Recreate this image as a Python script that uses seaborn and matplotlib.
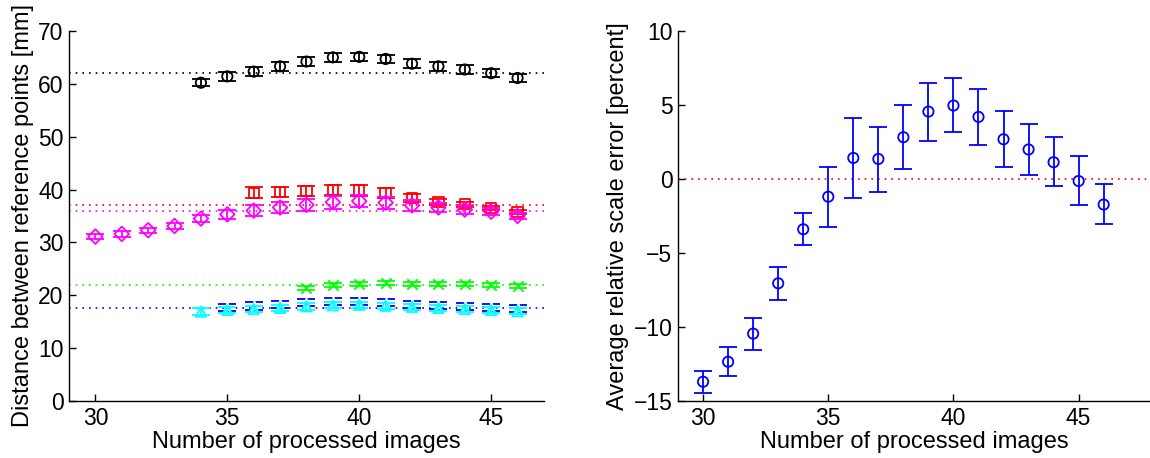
import numpy as np
import pandas as pd
import matplotlib
matplotlib.use("Agg")
import matplotlib.pyplot as plt
import seaborn as sns

# ---- Left panel: distances between reference points (mm) ----
black_x = [34, 35, 36, 37, 38, 39, 40, 41, 42, 43, 44, 45, 46]
black_y = [60.2, 61.4, 62.3, 63.3, 64.2, 65.0, 65.1, 64.7, 63.8, 63.3, 62.7, 62.0, 61.1]
black_err = [0.7, 0.8, 0.8, 0.8, 0.8, 0.8, 0.8, 0.8, 0.8, 0.8, 0.8, 0.8, 0.7]
black_ref = 62.0

red_x = [36, 37, 38, 39, 40, 41, 42, 43, 44, 45, 46]
red_y = [39.4, 39.5, 39.7, 39.9, 39.8, 39.3, 38.4, 37.7, 37.2, 36.5, 35.7]
red_err = [1.0, 1.0, 1.0, 1.0, 1.0, 0.9, 0.7, 0.6, 0.5, 0.4, 0.4]
red_ref = 37.0

mag_x = [30, 31, 32, 33, 34, 35, 36, 37, 38, 39, 40, 41, 42, 43, 44, 45, 46]
mag_y = [31.1, 31.6, 32.3, 33.1, 34.5, 35.3, 36.0, 36.6, 37.1, 37.6, 37.8, 37.5, 37.0, 36.6, 36.2, 35.8, 35.0]
mag_err = [0.45, 0.5, 0.5, 0.6, 0.7, 0.8, 1.0, 1.1, 1.1, 1.2, 1.2, 1.1, 1.0, 0.9, 0.8, 0.7, 0.6]
mag_ref = 36.0

green_x = [38, 39, 40, 41, 42, 43, 44, 45, 46]
green_y = [21.3, 21.9, 22.2, 22.3, 22.2, 22.2, 22.2, 22.0, 21.8]
green_err = [0.4, 0.4, 0.4, 0.4, 0.4, 0.4, 0.4, 0.4, 0.4]
green_ref = 22.0

blue_x = [35, 36, 37, 38, 39, 40, 41, 42, 43, 44, 45, 46]
blue_y = [17.7, 18.0, 18.3, 18.6, 18.8, 18.8, 18.6, 18.3, 18.1, 17.9, 17.7, 17.5]
blue_err = [0.7, 0.7, 0.7, 0.7, 0.7, 0.7, 0.7, 0.7, 0.7, 0.7, 0.7, 0.7]
blue_ref = 17.5

cyan_x = [34, 35, 36, 37, 38, 39, 40, 41, 42, 43, 44, 45, 46]
cyan_y = [16.9, 17.2, 17.4, 17.6, 17.9, 18.1, 18.2, 18.0, 17.8, 17.6, 17.4, 17.2, 17.0]
cyan_err = [0.6, 0.6, 0.6, 0.6, 0.6, 0.6, 0.6, 0.6, 0.6, 0.6, 0.6, 0.6, 0.6]

# ---- Right panel: average relative scale error (percent) ----
scale_x = [30, 31, 32, 33, 34, 35, 36, 37, 38, 39, 40, 41, 42, 43, 44, 45, 46]
scale_y = [-13.7, -12.35, -10.45, -7.05, -3.4, -1.2, 1.42, 1.35, 2.82, 4.55, 4.96, 4.19, 2.68, 1.99, 1.13, -0.14, -1.73]
scale_lo = [-14.45, -13.33, -11.53, -8.18, -4.48, -3.24, -1.3, -0.85, 0.66, 2.57, 3.14, 2.3, 0.81, 0.27, -0.49, -1.76, -3.06]
scale_hi = [-12.95, -11.35, -9.39, -5.95, -2.3, 0.81, 4.15, 3.54, 5.0, 6.51, 6.82, 6.08, 4.57, 3.74, 2.8, 1.53, -0.36]

sns.set_style("ticks")
plt.rcParams["font.family"] = ["Liberation Sans", "DejaVu Sans"]
plt.rcParams.update({
    "xtick.direction": "in",
    "ytick.direction": "in",
    "axes.linewidth": 1.0,
    "axes.edgecolor": "black",
    "axes.labelcolor": "black",
    "xtick.color": "black",
    "ytick.color": "black",
    "text.color": "black",
})

fig = plt.figure(figsize=(11.5, 4.58), dpi=100)
ax1 = fig.add_axes([0.060, 0.1245, 0.413, 0.808])
ax2 = fig.add_axes([0.5896, 0.1245, 0.4104, 0.808])

LW = 1.3
CAP = 6.5
MS = 55


def draw_series(ax, xs, ys, lo, hi, color, marker, zorder, filled_line=False):
    df = pd.DataFrame({"x": xs, "y": ys})
    ys_arr = np.asarray(ys, dtype=float)
    yerr = np.vstack([ys_arr - np.asarray(lo, dtype=float),
                      np.asarray(hi, dtype=float) - ys_arr])
    ax.errorbar(xs, ys, yerr=yerr, fmt="none", ecolor=color,
                elinewidth=LW, capsize=CAP, capthick=LW, zorder=zorder)
    if filled_line:
        sns.scatterplot(data=df, x="x", y="y", ax=ax, marker=marker, color=color,
                        s=MS, linewidth=LW, zorder=zorder + 0.5, legend=False)
    else:
        sns.scatterplot(data=df, x="x", y="y", ax=ax, marker=marker,
                        facecolor="none", edgecolor=color,
                        s=MS, linewidth=LW, zorder=zorder + 0.5, legend=False)


# reference distances as dotted horizontal lines
for ref, col in [(black_ref, "k"), (red_ref, "#ff0000"), (mag_ref, "#ff00ff"),
                 (green_ref, "#00ff00"), (blue_ref, "#0000ff")]:
    ax1.axhline(ref, color=col, linestyle=(0, (1, 3)), linewidth=1.2, zorder=1)

series = [
    (black_x, black_y, black_err, "k", "o", False),
    (red_x, red_y, red_err, "#ff0000", "s", False),
    (mag_x, mag_y, mag_err, "#ff00ff", "D", False),
    (green_x, green_y, green_err, "#00ff00", "x", True),
    (blue_x, blue_y, blue_err, "#0000ff", "*", True),
    (cyan_x, cyan_y, cyan_err, "#00ffff", "^", False),
]
for i, (xs, ys, err, col, mk, filled) in enumerate(series):
    lo = [y - e for y, e in zip(ys, err)]
    hi = [y + e for y, e in zip(ys, err)]
    draw_series(ax1, xs, ys, lo, hi, col, mk, 2 + i, filled)

ax1.set_xlim(29, 47)
ax1.set_ylim(0, 70)
ax1.set_xticks([30, 35, 40, 45])
ax1.set_yticks(np.arange(0, 71, 10))
ax1.set_xlabel("Number of processed images", fontsize=17, labelpad=1)
ax1.set_ylabel("Distance between reference points [mm]", fontsize=17, labelpad=3)

# right panel
ax2.axhline(0, color="#ff0000", linestyle=(0, (1, 3)), linewidth=1.2, zorder=1)
draw_series(ax2, scale_x, scale_y, scale_lo, scale_hi, "#0000ff", "o", 3)
ax2.set_xlim(29, 47.85)
ax2.set_ylim(-15, 10)
ax2.set_xticks([30, 35, 40, 45])
ax2.set_yticks([-15, -10, -5, 0, 5, 10])
ax2.set_xlabel("Number of processed images", fontsize=17, labelpad=1)
ax2.set_ylabel("Average relative scale error [percent]", fontsize=17, labelpad=3)

for ax in (ax1, ax2):
    sns.despine(ax=ax)
    ax.tick_params(axis="both", labelsize=16.5, length=5, width=1.0, pad=4)
    ax.set_facecolor("white")

fig.savefig("out.png", dpi=100, facecolor="white")
